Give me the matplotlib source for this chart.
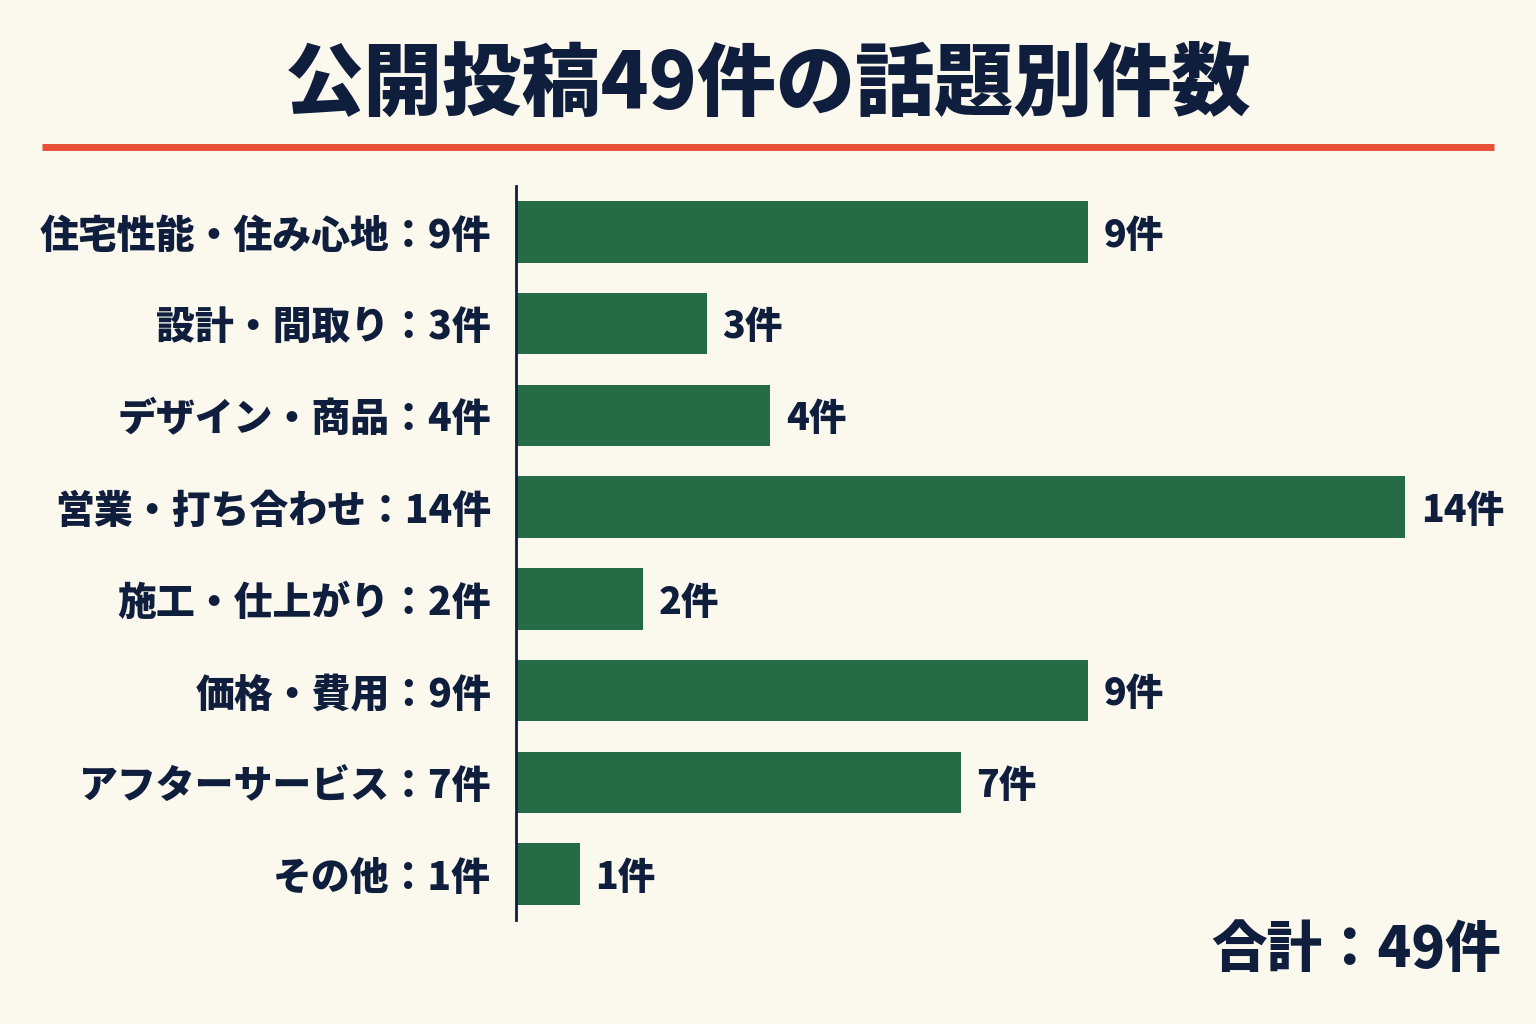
import matplotlib
matplotlib.use("Agg")
import matplotlib.pyplot as plt

plt.rcParams['font.family'] = ['Noto Sans CJK JP', 'DejaVu Sans']

### data
categories = ["住宅性能・住み心地", "設計・間取り", "デザイン・商品", "営業・打ち合わせ",
              "施工・仕上がり", "価格・費用", "アフターサービス", "その他"]
counts = [9, 3, 4, 14, 2, 9, 7, 1]
total = 49
title = "公開投稿49件の話題別件数"

bg = "#FBF8EE"
bar_color = "#256B45"
navy = "#0F1E3D"
red = "#E8503A"

fig = plt.figure(figsize=(15.36, 10.24), dpi=100, facecolor=bg)
ax = fig.add_axes([0.336, 0.1016, 0.5787, 0.7168])
ax.set_facecolor(bg)

y = list(range(len(categories)))
ax.barh(y, counts, height=0.67, color=bar_color)
ax.set_xlim(0, 14)
ax.set_ylim(len(categories) - 0.5, -0.5)

ax.set_yticks(y)
ax.set_yticklabels([f"{c}：{n}件" for c, n in zip(categories, counts)],
                   fontsize=28, fontweight='heavy', color=navy)
ax.tick_params(axis='y', length=0, pad=18)
ax.set_xticks([])
for s in ['top', 'right', 'bottom']:
    ax.spines[s].set_visible(False)
ax.spines['left'].set_color(navy)
ax.spines['left'].set_linewidth(2)

for yi, n in zip(y, counts):
    ax.text(n + 0.25, yi + 0.04, f"{n}件", va='center', ha='left', fontsize=27,
            fontweight='heavy', color=navy, clip_on=False)

# title and rule
fig.text(0.5, 0.917, title, ha='center', va='center', fontsize=57,
         fontweight='heavy', color=navy)
fig.add_artist(plt.Line2D([0.0273, 0.9727], [0.856, 0.856], color=red, linewidth=5,
                          solid_capstyle='butt', transform=fig.transFigure))

fig.text(0.977, 0.072, f"合計：{total}件", ha='right', va='center', fontsize=40,
         fontweight='heavy', color=navy)

fig.savefig("out.png", dpi=100, facecolor=bg)
